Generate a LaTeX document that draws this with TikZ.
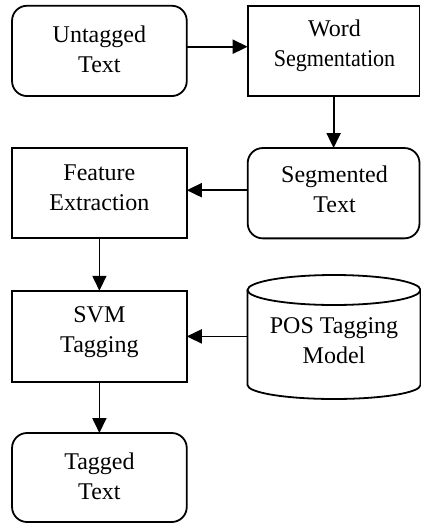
\documentclass[tikz,border=0pt]{standalone}
\usepackage{fontspec}
\usepackage{graphicx}
\setmainfont{Liberation Serif}
\usetikzlibrary{arrows.meta}
\tikzset{
  ln/.style={line width=1.8pt, draw=black},
  sqbox/.style={ln, rectangle, inner sep=0pt, outer sep=0pt, minimum width=174.7pt, minimum height=90.3pt},
  rbox/.style={sqbox, rounded corners=15pt},
  rsq/.style={ln, rectangle, inner sep=0pt, outer sep=0pt, minimum width=171.8pt, minimum height=90.3pt},
  rrbox/.style={rsq, rounded corners=15pt},
  txt/.style={align=center, anchor=base, inner sep=0pt, font=\fontsize{24}{30}\selectfont},
  arr/.style={ln, -{Triangle[length=15pt, width=14pt]}},
}
\begin{document}
\begin{tikzpicture}[x=1pt, y=-1pt]
\useasboundingbox (0,0) rectangle (421,523);
% boxes
\node[rbox] (ut) at (99.4,50.9) {};
\node[rsq] (ws) at (333.6,50.9) {};
\node[rrbox] (st) at (333.6,193.2) {};
\node[sqbox] (fe) at (99.4,193.2) {};
\node[sqbox, minimum height=91.3pt] (svm) at (99.4,336.4) {};
\node[rbox, minimum height=89pt] (tt) at (99.4,477.5) {};
% cylinder
\node[inner sep=0pt, outer sep=0pt, minimum width=173pt, minimum height=125pt] (pos) at (334,337.5) {};
\draw[ln] (pos.west |- 0,290) -- (pos.west |- 0,385)
  arc[start angle=180, end angle=360, x radius=86.5pt, y radius=14pt] -- (pos.east |- 0,290);
\draw[ln] (334,290) ellipse [x radius=86.5pt, y radius=15pt];
% texts (anchor base = baseline of the last line)
\node[txt] (tut) at (99.4,72) {Untagged\\Text};
\node[txt] (tws) at (334.5,66) {Word\\\scalebox{0.92}[1]{Segmentation}};
\node[txt] (tst) at (334.5,212) {Segmented\\Text};
\node[txt] (tfe) at (99.4,210) {Feature\\Extraction};
\node[txt] (tsvm) at (99.4,352) {SVM\\Tagging};
\node[txt] (tpos) at (334,363) {POS Tagging\\Model};
\node[txt] (ttt) at (99.4,499) {Tagged\\Text};
% arrows
\draw[arr] ([yshift=4.2pt]ut.east) -- ([yshift=4.2pt]ws.west);
\draw[arr] (ws.south) -- (ws.south |- st.north);
\draw[arr] ([yshift=3pt]st.west) -- ([yshift=3pt]fe.east);
\draw[arr] (fe.south) -- (fe.south |- svm.north);
\draw[arr] (pos.west |- svm.east) -- (svm.east);
\draw[arr] (svm.south) -- (svm.south |- tt.north);
\end{tikzpicture}
\end{document}
